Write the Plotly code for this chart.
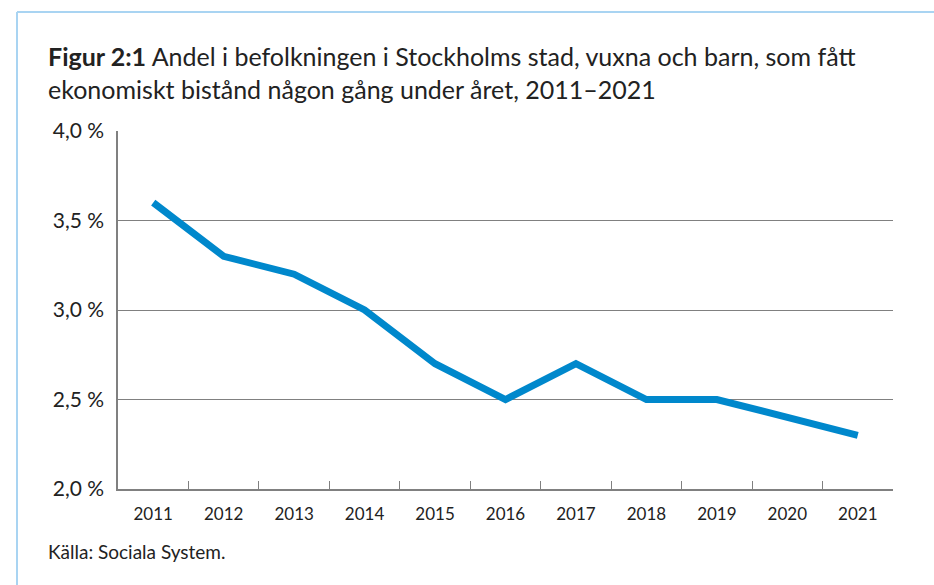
import plotly.graph_objects as go

years = ["2011", "2012", "2013", "2014", "2015", "2016", "2017", "2018", "2019", "2020", "2021"]
andel = [3.6, 3.3, 3.2, 3.0, 2.7, 2.5, 2.7, 2.5, 2.5, 2.4, 2.3]
y_tickvals = [2.0, 2.5, 3.0, 3.5, 4.0]
y_ticktext = ["2,0 %", "2,5 %", "3,0 %", "3,5 %", "4,0 %"]

title_html = ("<b>Figur 2:1</b> Andel i befolkningen i Stockholms stad, vuxna och barn, som fått"
              "<br>ekonomiskt bistånd någon gång under året, 2011–2021")
source = "Källa: Sociala System."

W, H = 934, 585
L, R, T, B = 118, 41, 131, 96
pw, ph = W - L - R, H - T - B

def px(x):
    return (x - L) / pw

def py(y):
    return (H - B - y) / ph

FONT = "Lato"
TXT = "#222222"

fig = go.Figure()
fig.add_trace(go.Scatter(
    x=years, y=andel, mode="lines",
    line=dict(color="#0088CC", width=7),
    hoverinfo="skip", showlegend=False,
))

fig.update_layout(
    width=W, height=H,
    margin=dict(l=L, r=R, t=T, b=B),
    paper_bgcolor="white", plot_bgcolor="white",
    font=dict(family=FONT, color=TXT),
    showlegend=False,
    xaxis=dict(
        type="category", tickson="boundaries",
        ticks="inside", ticklen=8, tickwidth=1.3, tickcolor="#808080",
        showline=True, linecolor="#808080", linewidth=1.5,
        showgrid=False, zeroline=False,
        tickfont=dict(size=17, color=TXT, family=FONT),
        ticklabelstandoff=9,
        range=[-0.5, 10.5],
    ),
    yaxis=dict(
        range=[2.0, 4.0], tickvals=y_tickvals, ticktext=y_ticktext,
        showgrid=True, gridcolor="#808080", gridwidth=1,
        showline=True, linecolor="#808080", linewidth=1.5,
        zeroline=False, ticks="",
        tickfont=dict(size=21, color=TXT, family=FONT),
        ticklabelstandoff=8,
    ),
    annotations=[
        dict(text=title_html, xref="paper", yref="paper", x=px(46), y=py(39),
             xanchor="left", yanchor="top", align="left", showarrow=False,
             font=dict(size=25, color=TXT, family=FONT)),
        dict(text=source, xref="paper", yref="paper", x=px(46), y=py(551),
             xanchor="left", yanchor="middle", align="left", showarrow=False,
             font=dict(size=19, color=TXT, family=FONT)),
    ],
    shapes=[
        dict(type="line", xref="paper", yref="paper", x0=px(17), x1=px(W + 5),
             y0=py(12), y1=py(12), line=dict(color="#A9D4F2", width=2)),
        dict(type="line", xref="paper", yref="paper", x0=px(17), x1=px(17),
             y0=py(12), y1=py(H + 5), line=dict(color="#A9D4F2", width=2)),
    ],
)

fig.write_html("out.html", config={"displayModeBar": False},
               post_script="document.body.style.margin='0';")
